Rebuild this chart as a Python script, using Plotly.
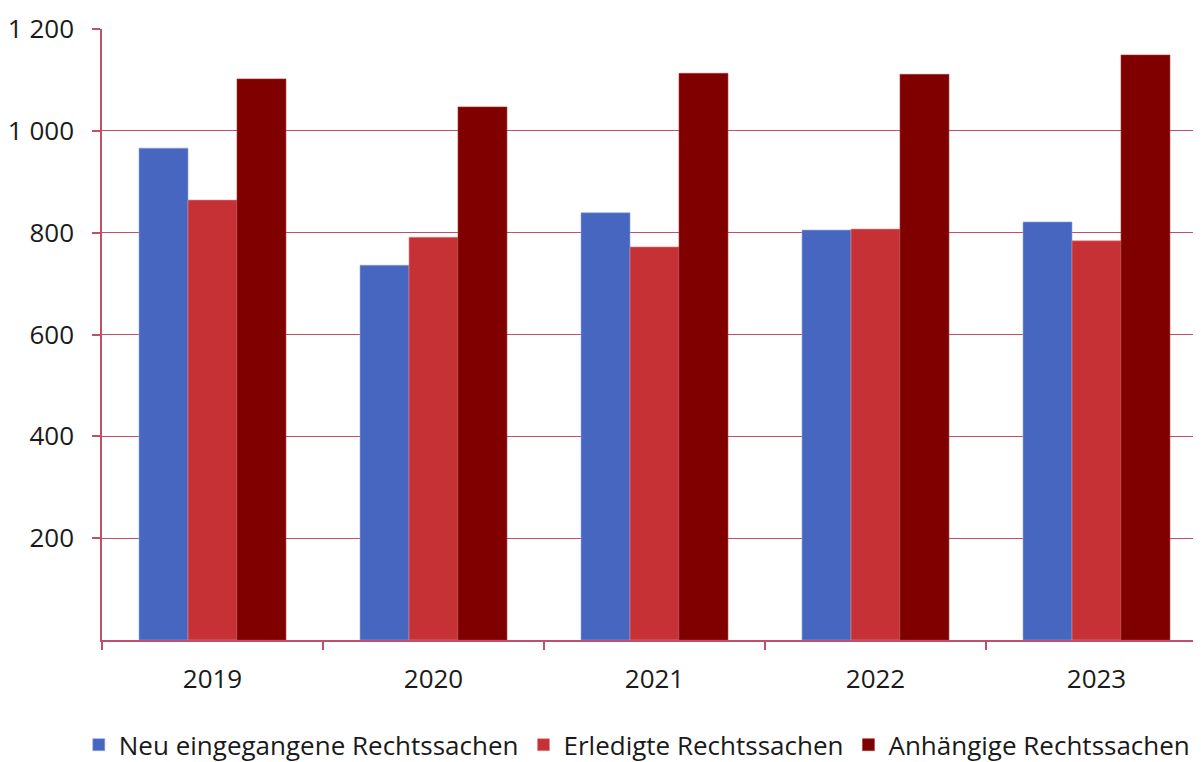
import plotly.graph_objects as go

years = ["2019", "2020", "2021", "2022", "2023"]
neu = [966, 736, 839, 805, 821]
erledigt = [864, 791, 772, 807, 784]
anhaengig = [1102, 1047, 1113, 1111, 1149]

y_ticks = [200, 400, 600, 800, 1000, 1200]
y_labels = ["200", "400", "600", "800", "1 000", "1 200"]

axis_col = "#C0506A"
font = "Open Sans"

fig = go.Figure()
fig.add_trace(go.Bar(x=years, y=neu, name="Neu eingegangene Rechtssachen",
                     marker=dict(color="#4666C0", line=dict(color="#8FA3DC", width=0.6))))
fig.add_trace(go.Bar(x=years, y=erledigt, name="Erledigte Rechtssachen",
                     marker=dict(color="#C63136", line=dict(color="#E08A8D", width=0.6))))
fig.add_trace(go.Bar(x=years, y=anhaengig, name="Anhängige Rechtssachen",
                     marker=dict(color="#800000", line=dict(color="#A33A3A", width=0.6))))

# page body has an 8px margin, so the plot area is offset accordingly
fig.update_layout(
    width=1201, height=762,
    margin=dict(l=94, r=2, t=21, b=130, autoexpand=False),
    plot_bgcolor="white", paper_bgcolor="white",
    font=dict(family=font, size=26, color="#1a1a1a"),
    barmode="group", bargap=0.335, bargroupgap=0,
    showlegend=True,
    legend=dict(orientation="h", x=-0.021, xanchor="left", y=-0.133, yanchor="top",
                font=dict(size=26), itemwidth=30, tracegroupgap=0),
)

fig.update_xaxes(
    type="category", range=[-0.5, 4.5], automargin=False,
    showline=True, linecolor=axis_col, linewidth=1.5,
    ticks="outside", tickson="boundaries", ticklen=8, tickcolor=axis_col, tickwidth=1.5,
    showgrid=False, ticklabelstandoff=15,
)
fig.update_yaxes(
    range=[0, 1200], tickvals=y_ticks, ticktext=y_labels, automargin=False,
    showline=True, linecolor=axis_col, linewidth=1.5,
    ticks="outside", ticklen=8, tickcolor=axis_col, tickwidth=1.5,
    showgrid=True, gridcolor=axis_col, gridwidth=1,
    zeroline=False, ticklabelstandoff=13,
)

fig.write_html("out.html")
